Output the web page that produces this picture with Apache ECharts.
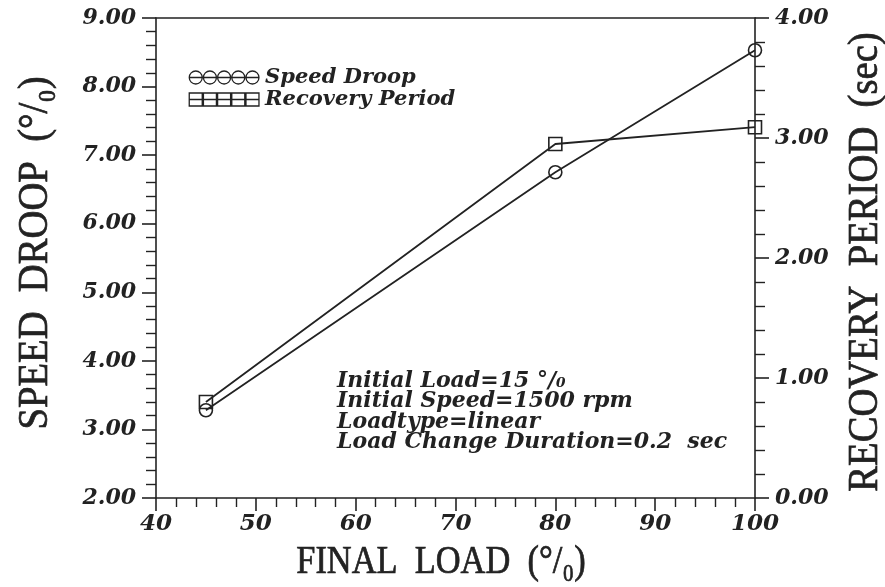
<!DOCTYPE html>
<html>
<head>
<meta charset="utf-8">
<script src="https://cdn.jsdelivr.net/npm/echarts@6/dist/echarts.min.js"></script>
<style>
  html, body { margin: 0; padding: 0; background: #fff; }
  #chart { width: 885px; height: 587px; }
</style>
</head>
<body>
<div id="chart"></div>
<script>
// Final load step (%) and measured responses
const finalLoad = [45, 80, 100];
const speedDroop = [3.28, 6.75, 8.53];       // %
const recoveryPeriod = [0.80, 2.95, 3.09];   // sec

const seriesNames = ['Speed Droop', 'Recovery Period'];
const xTicks = { min: 40, max: 100, step: 10 };
const droopTicks = { min: 2, max: 9, step: 1 };
const periodTicks = { min: 0, max: 4, step: 1 };

const noteLines = [
  'Initial Load=15 °/₀',
  'Initial Speed=1500 rpm',
  'Loadtype=linear',
  'Load Change Duration=0.2  sec'
];

const ink = '#222';
const labelFont = { fontFamily: 'DejaVu Serif', fontStyle: 'italic', fontWeight: 'bold', color: ink };
const titleFont = { fontFamily: 'Liberation Serif', fontWeight: 'normal', fill: ink, stroke: ink, lineWidth: 0.7 };

// legend glyphs: a row of five open circles / squares
function circleRow() {
  let d = 'M0,6 L60,6 ';
  for (let i = 0; i < 5; i++) {
    const cx = 6 + 12 * i;
    d += `M${cx - 5.5},6 A5.5,5.5 0 1,1 ${cx + 5.5},6 A5.5,5.5 0 1,1 ${cx - 5.5},6 Z `;
  }
  return 'path://' + d;
}
function squareRow() {
  let d = 'M0,6 L60,6 ';
  for (let i = 0; i < 5; i++) {
    const x0 = 12 * i + 0.5;
    d += `M${x0},0.5 L${x0 + 11},0.5 L${x0 + 11},11.5 L${x0},11.5 Z `;
  }
  return 'path://' + d;
}

const pairs = (ys) => finalLoad.map((x, i) => [x, ys[i]]);

const chart = echarts.init(document.getElementById('chart'), null, { renderer: 'canvas' });

const axisLine = { show: true, lineStyle: { color: ink, width: 1.6 } };

chart.setOption({
  backgroundColor: '#fff',
  animation: false,
  grid: { left: 156, right: 130, top: 18, bottom: 89 },
  legend: {
    orient: 'vertical',
    left: 183,
    top: 62,
    itemWidth: 72,
    itemHeight: 13,
    itemGap: 1,
    selectedMode: false,
    textStyle: Object.assign({ fontSize: 21 }, labelFont),
    itemStyle: { color: 'rgba(0,0,0,0)', borderColor: ink, borderWidth: 1.3 },
    data: [
      { name: seriesNames[0], icon: circleRow() },
      { name: seriesNames[1], icon: squareRow() }
    ]
  },
  xAxis: [
    {
      type: 'value',
      min: xTicks.min,
      max: xTicks.max,
      interval: xTicks.step,
      axisLine: axisLine,
      axisTick: { show: true, length: 13, lineStyle: { color: ink, width: 1.6 } },
      minorTick: { show: true, splitNumber: 5, length: 9, lineStyle: { color: ink, width: 1.4 } },
      axisLabel: Object.assign({ fontSize: 23, margin: 15 }, labelFont),
      splitLine: { show: false }
    },
    {
      type: 'value',
      position: 'top',
      min: xTicks.min,
      max: xTicks.max,
      axisLine: axisLine,
      axisTick: { show: false },
      axisLabel: { show: false },
      splitLine: { show: false }
    }
  ],
  yAxis: [
    {
      type: 'value',
      position: 'left',
      min: droopTicks.min,
      max: droopTicks.max,
      interval: droopTicks.step,
      axisLine: axisLine,
      axisTick: { show: true, length: 14, lineStyle: { color: ink, width: 1.6 } },
      minorTick: { show: true, splitNumber: 5, length: 10, lineStyle: { color: ink, width: 1.4 } },
      axisLabel: Object.assign({ fontSize: 22, margin: 20, formatter: (v) => v.toFixed(2) }, labelFont),
      splitLine: { show: false }
    },
    {
      type: 'value',
      position: 'right',
      min: periodTicks.min,
      max: periodTicks.max,
      interval: periodTicks.step,
      axisLine: axisLine,
      axisTick: { show: true, length: 14, lineStyle: { color: ink, width: 1.6 } },
      minorTick: { show: true, splitNumber: 5, length: 10, lineStyle: { color: ink, width: 1.4 } },
      axisLabel: Object.assign({ fontSize: 22, margin: 20, formatter: (v) => v.toFixed(2) }, labelFont),
      splitLine: { show: false }
    }
  ],
  series: [
    {
      name: seriesNames[0],
      type: 'line',
      xAxisIndex: 0,
      yAxisIndex: 0,
      data: pairs(speedDroop),
      symbol: 'circle',
      symbolSize: 13,
      itemStyle: { color: 'rgba(0,0,0,0)', borderColor: ink, borderWidth: 1.6 },
      lineStyle: { color: ink, width: 1.8 },
      z: 3
    },
    {
      name: seriesNames[1],
      type: 'line',
      xAxisIndex: 0,
      yAxisIndex: 1,
      data: pairs(recoveryPeriod),
      symbol: 'rect',
      symbolSize: 13,
      itemStyle: { color: 'rgba(0,0,0,0)', borderColor: ink, borderWidth: 1.6 },
      lineStyle: { color: ink, width: 1.8 },
      z: 3
    }
  ],
  graphic: [
    {
      type: 'text',
      x: 441, y: 562,
      scaleX: 0.86,
      style: Object.assign({ text: 'FINAL  LOAD  (°/₀)', fontSize: 40, align: 'center', verticalAlign: 'middle' }, titleFont)
    },
    {
      type: 'text',
      x: 36, y: 253,
      rotation: Math.PI / 2,
      scaleX: 0.92,
      style: Object.assign({ text: 'SPEED  DROOP  (°/₀)', fontSize: 42, align: 'center', verticalAlign: 'middle' }, titleFont)
    },
    {
      type: 'text',
      x: 866, y: 262,
      rotation: Math.PI / 2,
      scaleX: 0.92,
      style: Object.assign({ text: 'RECOVERY  PERIOD  (sec)', fontSize: 42, align: 'center', verticalAlign: 'middle' }, titleFont)
    },
    {
      type: 'text',
      x: 337, y: 371,
      style: {
        text: noteLines.join('\n'),
        fontFamily: 'DejaVu Serif',
        fontStyle: 'italic',
        fontWeight: 'bold',
        fontSize: 22,
        lineHeight: 20.5,
        fill: ink,
        align: 'left',
        verticalAlign: 'top'
      }
    }
  ]
});
</script>
</body>
</html>
